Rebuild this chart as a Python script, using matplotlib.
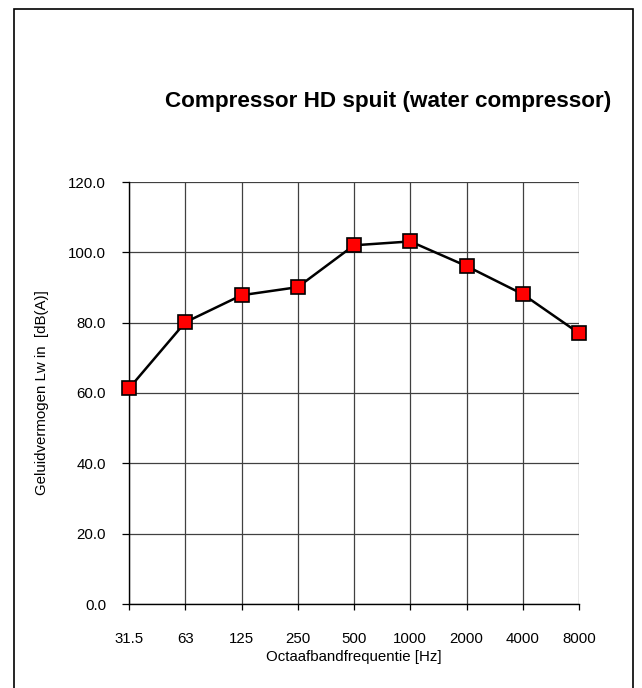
import matplotlib
matplotlib.use("Agg")
import matplotlib.pyplot as plt
from matplotlib.patches import Rectangle

plt.rcParams['font.family'] = ['Liberation Sans', 'DejaVu Sans']

# octave band data
freq_labels = ['31.5', '63', '125', '250', '500', '1000', '2000', '4000', '8000']
lw_values = [61.3, 80.1, 87.8, 90.1, 102.0, 103.1, 96.1, 88.1, 77.0]
y_ticks = [0, 20, 40, 60, 80, 100, 120]

fig = plt.figure(figsize=(6.42, 6.88), dpi=100)

# outer chart border
fig.patches.append(Rectangle((14 / 642, -0.05), (633 - 14) / 642, 1.05 - 9 / 688,
                             transform=fig.transFigure, fill=False,
                             edgecolor='#000000', linewidth=1.2))

ax = fig.add_axes([129 / 642, 1 - 604 / 688, 450 / 642, 422 / 688])

x = list(range(len(freq_labels)))
ax.plot(x, lw_values, color='black', linewidth=1.8, marker='s', markersize=9.5,
        markerfacecolor='#ff0000', markeredgecolor='black', markeredgewidth=1.2,
        clip_on=False, zorder=5)

ax.set_xlim(0, len(freq_labels) - 1)
ax.set_ylim(0, 120)
ax.set_xticks(x)
ax.set_xticklabels(freq_labels)
ax.set_yticks(y_ticks)
ax.set_yticklabels([f'{v:.1f}' for v in y_ticks])

ax.grid(True, color='#404040', linewidth=0.9)
ax.set_axisbelow(True)
for side in ['top', 'right']:
    ax.spines[side].set_visible(False)
for side in ['left', 'bottom']:
    ax.spines[side].set_color('black')
    ax.spines[side].set_linewidth(1.0)

ax.tick_params(axis='y', direction='out', length=5, width=0.9, labelsize=10.8, pad=11.5)
ax.tick_params(axis='x', direction='out', length=4, width=0.9, labelsize=10.8, pad=16)

ax.set_xlabel('Octaafbandfrequentie [Hz]', fontsize=10.8, labelpad=3)
ax.set_ylabel('Geluidvermogen Lw in  [dB(A)]', fontsize=10.8, labelpad=14)

fig.text(388 / 642, 1 - 102 / 688, 'Compressor HD spuit (water compressor)',
         ha='center', va='center', fontsize=16.2, fontweight='bold')

fig.savefig('out.png', dpi=100)
